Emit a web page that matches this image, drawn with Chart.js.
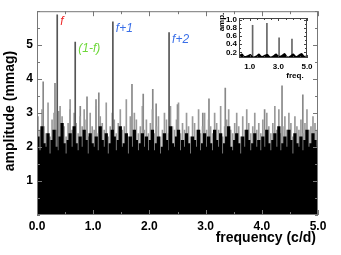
<!DOCTYPE html>
<html>
<head>
<meta charset="utf-8">
<script src="https://cdn.jsdelivr.net/npm/chart.js@4"></script>
<style>
  body { margin: 0; background: #fff; }
  #wrap { position: relative; width: 341px; height: 255px; }
  #main { position: absolute; left: 0; top: 0; }
  #inset { position: absolute; left: 214px; top: 10px; }
</style>
</head>
<body>
<div id="wrap">
  <canvas id="main" width="341" height="255"></canvas>
  <canvas id="inset" width="104" height="72"></canvas>
</div>
<script>
// amplitude spectrum, c/d vs mmag
const xTicks = [0, 1, 2, 3, 4, 5];
const yTicks = [1, 2, 3, 4, 5];

// noise in 140 equal frequency bins over 0-5 c/d
const noiseStep = 5 / 140;
const blackAmp = [
  2.3,1.9,2.6,2.1,2.0,2.4,1.8,2.2,2.5,2.0,1.9,2.3,2.7,2.1,1.8,2.2,2.4,2.0,2.6,2.1,1.9,2.3,2.0,2.5,2.2,1.8,2.4,2.1,
  2.0,2.3,1.9,2.6,2.2,2.0,2.4,1.8,2.1,2.5,2.3,1.9,2.2,2.6,2.0,2.1,2.4,1.8,2.3,2.0,2.5,2.2,1.9,2.1,2.4,2.0,2.3,1.9,
  2.2,2.5,1.9,2.1,2.3,1.8,2.0,2.4,2.2,1.9,2.6,2.1,2.0,2.3,2.5,1.9,2.2,2.0,2.4,2.1,1.8,2.3,2.2,2.0,2.5,1.9,2.1,2.4,
  2.0,2.3,2.1,1.9,2.5,2.2,2.0,2.4,1.8,2.1,2.3,2.6,2.0,1.9,2.2,2.4,2.1,1.8,2.3,2.0,2.5,2.2,1.9,2.1,2.4,2.0,2.2,1.9,
  2.3,2.0,2.5,2.1,1.9,2.2,2.4,2.0,2.6,1.9,2.1,2.3,2.0,2.5,2.2,1.8,2.4,2.1,2.0,2.3,1.9,2.2,2.5,2.0,2.1,2.4,2.2,2.0
];
const greyAmp = [
  2.9,2.5,3.1,2.6,2.4,3.3,2.3,2.8,3.0,2.5,2.4,3.2,2.9,2.6,2.3,2.7,3.4,2.5,3.0,2.7,2.4,2.9,2.6,3.1,2.8,2.3,3.0,2.6,
  2.5,3.2,2.4,2.9,2.7,2.5,3.3,2.3,2.6,3.0,2.8,2.4,2.7,3.1,2.5,2.6,3.4,2.3,2.9,2.5,3.0,2.8,2.4,2.6,3.2,2.5,2.8,2.4,
  2.7,3.1,2.4,2.6,2.9,2.3,2.5,3.0,2.8,2.4,3.2,2.6,2.5,2.8,3.3,2.4,2.7,2.5,3.0,2.6,2.3,2.9,2.7,2.5,3.1,2.4,2.6,3.0,
  2.5,2.8,2.6,2.4,3.0,2.7,2.5,3.2,2.3,2.6,2.8,3.1,2.5,2.4,2.7,3.0,2.6,2.3,2.9,2.5,3.1,2.7,2.4,2.6,3.0,2.5,2.7,2.4,
  2.8,2.5,3.0,2.6,2.4,2.7,3.2,2.5,3.1,2.4,2.6,2.9,2.5,3.0,2.7,2.3,2.9,2.6,2.5,2.8,2.4,2.7,3.1,2.5,2.6,2.9,2.7,2.5
];

// taller isolated noise peaks
const spikeFreq = [0.11, 0.32, 0.39, 0.59, 0.77, 0.89, 1.05, 1.10, 1.69, 1.89, 2.06, 2.12, 2.50, 2.95, 3.06, 3.35, 4.05, 4.36, 4.73];
const spikeAmp  = [3.92, 3.88, 3.05, 3.10, 3.20, 3.48, 3.40, 3.60, 3.85, 3.56, 3.70, 3.27, 3.25, 3.00, 3.42, 3.74, 3.10, 3.80, 3.54];

// identified frequencies
const peakFreq = [0.36, 0.68, 1.35, 2.35];
const peakAmp = [5.89, 5.09, 5.69, 5.37];
const peakLabels = ['f', '(1-f)', 'f+1', 'f+2'];
const peakColors = ['#ee2a2a', '#6ed83a', '#3a6fe8', '#3a6fe8'];

// inset: spectral window
const insetXTicks = [1, 3, 5];
const insetYTicks = [0.2, 0.4, 0.6, 0.8, 1.0];
const insetFloorFreq = [0.25,0.45,0.65,0.85,1.05,1.25,1.45,1.65,1.85,2.05,2.25,2.45,2.65,2.85,3.05,3.25,3.45,3.65,3.85,4.05,4.25,4.45,4.65,4.85,5.0];
const insetFloorAmp  = [0.12,0.17,0.11,0.13,0.16,0.10,0.12,0.17,0.11,0.14,0.16,0.10,0.13,0.17,0.11,0.14,0.18,0.10,0.13,0.17,0.11,0.15,0.18,0.11,0.14];
const windowFreq = [1.2, 2.2, 3.05, 3.95];
const windowAmp = [0.87, 0.92, 0.56, 0.53];

const frameColor = '#777';
const tickFont = { family: 'Liberation Sans, Arial, sans-serif', weight: 'bold', size: 12 };

function pts(xs, ys) { return xs.map((x, i) => ({ x: x, y: ys[i] })); }
function binPts(arr) { return arr.map((v, i) => ({ x: (i + 0.5) * noiseStep, y: v })); }

// frame + inward ticks on all four sides
function framePlugin(xMajor, xMinorStep, yMajor, yMinorStep, major, minor, color) {
  return {
    id: 'frame',
    afterDraw(chart) {
      const { ctx, chartArea: a, scales: { x, y } } = chart;
      ctx.save();
      ctx.strokeStyle = color;
      ctx.lineWidth = 1;
      ctx.strokeRect(a.left + 0.5, a.top + 0.5, a.right - a.left - 1, a.bottom - a.top - 1);
      ctx.beginPath();
      const xs = [];
      for (let v = Math.ceil(x.min / xMinorStep) * xMinorStep; v <= x.max + 1e-9; v += xMinorStep) xs.push(v);
      xs.forEach(v => {
        const px = Math.round(x.getPixelForValue(v)) + 0.5;
        const len = xMajor.some(m => Math.abs(m - v) < 1e-6) ? major : minor;
        ctx.moveTo(px, a.bottom); ctx.lineTo(px, a.bottom - len);
        ctx.moveTo(px, a.top); ctx.lineTo(px, a.top + len);
      });
      const ys = [];
      for (let v = Math.ceil(y.min / yMinorStep) * yMinorStep; v <= y.max + 1e-9; v += yMinorStep) ys.push(v);
      ys.forEach(v => {
        const py = Math.round(y.getPixelForValue(v)) + 0.5;
        const len = yMajor.some(m => Math.abs(m - v) < 1e-6) ? major : minor;
        ctx.moveTo(a.left, py); ctx.lineTo(a.left + len, py);
        ctx.moveTo(a.right, py); ctx.lineTo(a.right - len, py);
      });
      ctx.stroke();
      ctx.restore();
    }
  };
}

const labelPlugin = {
  id: 'labels',
  afterDraw(chart) {
    const { ctx, scales: { x, y } } = chart;
    ctx.save();
    ctx.font = 'italic 12px Liberation Sans, Arial, sans-serif';
    ctx.textBaseline = 'top';
    ctx.textAlign = 'left';
    peakLabels.forEach((t, i) => {
      ctx.fillStyle = peakColors[i];
      ctx.fillText(t, x.getPixelForValue(peakFreq[i]) + 3, y.getPixelForValue(peakAmp[i]) + 1);
    });
    // axis titles
    ctx.fillStyle = '#000';
    ctx.font = 'bold 14px Liberation Sans, Arial, sans-serif';
    ctx.textBaseline = 'middle';
    ctx.textAlign = 'right';
    ctx.fillText('frequency (c/d)', 316, 238);
    ctx.translate(10, 111);
    ctx.rotate(-Math.PI / 2);
    ctx.textAlign = 'center';
    ctx.fillText('amplitude (mmag)', 0, 0);
    ctx.restore();
  }
};

new Chart(document.getElementById('main'), {
  type: 'bar',
  data: {
    datasets: [
      { data: binPts(blackAmp), backgroundColor: '#000', barThickness: 2.6, grouped: false, order: 1 },
      { data: pts(peakFreq, peakAmp), backgroundColor: '#555', barThickness: 1, grouped: false, order: 2 },
      { data: binPts(greyAmp), backgroundColor: '#9a9a9a', barThickness: 1, grouped: false, order: 3 },
      { data: pts(spikeFreq, spikeAmp), backgroundColor: '#888', barThickness: 1, grouped: false, order: 4 }
    ]
  },
  options: {
    responsive: false,
    animation: false,
    devicePixelRatio: 1,
    layout: { padding: { top: 6, right: 23, left: 0, bottom: 0 } },
    plugins: { legend: { display: false }, tooltip: { enabled: false } },
    scales: {
      x: {
        type: 'linear', min: 0, max: 5, offset: false,
        grid: { display: false, drawTicks: false },
        border: { display: false },
        afterBuildTicks: s => { s.ticks = xTicks.map(v => ({ value: v })); },
        afterFit: s => { s.height = 40; },
        ticks: { font: tickFont, color: '#000', padding: 4, maxRotation: 0, autoSkip: false, callback: v => v.toFixed(1) }
      },
      y: {
        min: 0, max: 6,
        grid: { display: false, drawTicks: false },
        border: { display: false },
        afterBuildTicks: s => { s.ticks = yTicks.map(v => ({ value: v })); },
        afterFit: s => { s.width = 37; },
        ticks: { font: tickFont, color: '#000', padding: 4, autoSkip: false }
      }
    }
  },
  plugins: [framePlugin(xTicks, 0.5, yTicks, 0.5, 5, 3, frameColor), labelPlugin]
});

const insetFont = { family: 'Liberation Sans, Arial, sans-serif', weight: 'bold', size: 8 };
const insetTitles = {
  id: 'insetTitles',
  afterDraw(chart) {
    const ctx = chart.ctx;
    ctx.save();
    ctx.fillStyle = '#000';
    ctx.font = 'bold 8px Liberation Sans, Arial, sans-serif';
    ctx.textBaseline = 'middle';
    ctx.textAlign = 'center';
    ctx.fillText('freq.', 81, 66);
    ctx.translate(8, 12);
    ctx.rotate(-Math.PI / 2);
    ctx.fillText('amp.', 0, 0);
    ctx.restore();
  }
};

new Chart(document.getElementById('inset'), {
  type: 'bar',
  data: {
    datasets: [
      { type: 'line', data: pts(insetFloorFreq, insetFloorAmp), borderWidth: 0, pointRadius: 0,
        backgroundColor: '#000', fill: 'start', tension: 0.4, order: 1 },
      { data: pts(windowFreq, windowAmp), backgroundColor: '#666', barThickness: 1, grouped: false, order: 2 }
    ]
  },
  options: {
    responsive: false,
    animation: false,
    devicePixelRatio: 1,
    layout: { padding: { top: 8, right: 11, left: 0, bottom: 0 } },
    plugins: { legend: { display: false }, tooltip: { enabled: false } },
    scales: {
      x: {
        type: 'linear', min: 0.25, max: 5, offset: false,
        grid: { display: false, drawTicks: false },
        border: { display: false },
        afterBuildTicks: s => { s.ticks = insetXTicks.map(v => ({ value: v })); },
        afterFit: s => { s.height = 24; },
        ticks: { font: insetFont, color: '#000', padding: 4, maxRotation: 0, autoSkip: false, callback: v => v.toFixed(1) }
      },
      y: {
        min: 0.06, max: 1.05,
        grid: { display: false, drawTicks: false },
        border: { display: false },
        afterBuildTicks: s => { s.ticks = insetYTicks.map(v => ({ value: v })); },
        afterFit: s => { s.width = 25; },
        ticks: { font: insetFont, color: '#000', padding: 2, autoSkip: false, callback: v => v.toFixed(1) }
      }
    }
  },
  plugins: [framePlugin(insetXTicks, 0.5, insetYTicks, 0.1, 3, 2, '#444'), insetTitles]
});
</script>
</body>
</html>
